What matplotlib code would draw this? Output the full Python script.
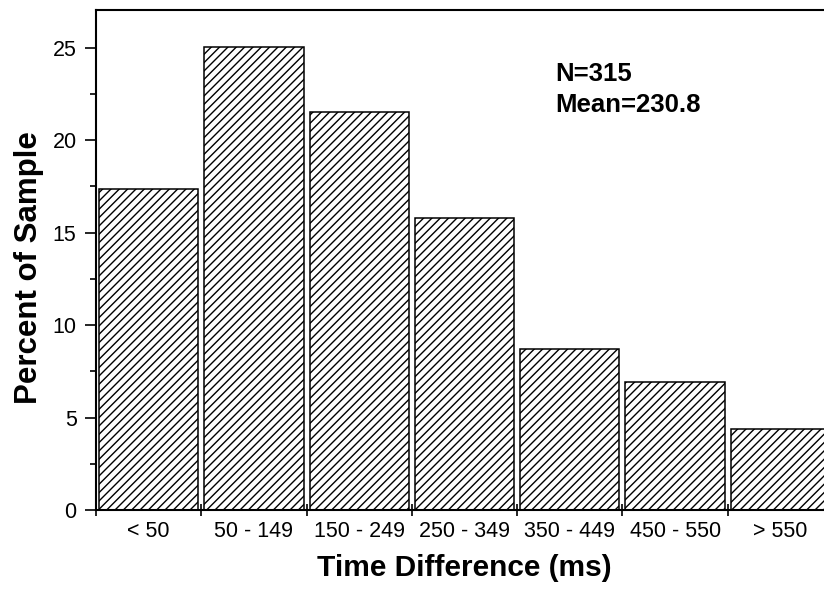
import matplotlib
matplotlib.use("Agg")
import matplotlib.pyplot as plt
import numpy as np

categories = ["< 50", "50 - 149", "150 - 249", "250 - 349", "350 - 449", "450 - 550", "> 550"]
percent = [17.38, 25.02, 21.55, 15.78, 8.69, 6.94, 4.36]
annot_lines = ["N=315", "Mean=230.8"]

plt.rcParams['font.family'] = ['Liberation Sans', 'DejaVu Sans']
plt.rcParams['hatch.linewidth'] = 1.0

fig = plt.figure(figsize=(8.24, 5.92), dpi=100)
ax = fig.add_axes([96/824, 82/592, 737/824, 500.5/592])

x = np.arange(len(categories))
ax.bar(x, percent, width=0.944, color='white', edgecolor='black',
       linewidth=1.1, hatch='////')

ax.set_xlim(-0.5, len(categories) - 0.5)
ax.set_ylim(0, 27.07)

# x ticks at bin boundaries, labels at centres
ax.set_xticks(np.arange(len(categories) + 1) - 0.5)
ax.set_xticklabels([])
ax.set_xticks(x, minor=True)
ax.set_xticklabels(categories, minor=True, fontsize=15.5)
ax.tick_params(axis='x', which='major', direction='inout', length=9, width=1.2)
ax.tick_params(axis='x', which='minor', length=0, pad=8)

ax.set_yticks(np.arange(0, 26, 5))
ax.set_yticks(np.arange(0, 27, 2.5), minor=True)
ax.tick_params(axis='y', which='major', direction='out', length=8, width=1.2,
               labelsize=15.5, pad=6)
ax.tick_params(axis='y', which='minor', direction='out', length=4.5, width=1.2)

for s in ax.spines.values():
    s.set_linewidth(1.5)

ax.set_xlabel("Time Difference (ms)", fontsize=21.5, fontweight='bold')
ax.xaxis.set_label_coords(0.4995, -0.088)
ax.xaxis.label.set_va('top')
ax.set_ylabel("Percent of Sample", fontsize=22.5, fontweight='bold')
ax.yaxis.set_label_coords(-0.071, 0.4835)

ax.text(3.86, 23.2, annot_lines[0], fontsize=18.5, fontweight='bold', va='baseline')
ax.text(3.86, 21.5, annot_lines[1], fontsize=18.5, fontweight='bold', va='baseline')

fig.savefig("out.png", dpi=100)
